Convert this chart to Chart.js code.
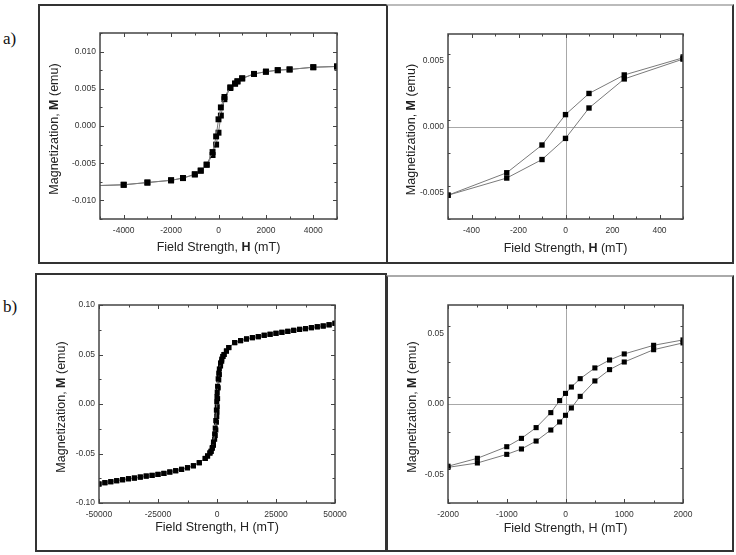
<!DOCTYPE html>
<html>
<head>
<meta charset="utf-8">
<script src="https://cdn.jsdelivr.net/npm/chart.js@4.4.0/dist/chart.umd.min.js"></script>
<style>
  html, body { margin: 0; padding: 0; background: #fff; }
  #page { position: relative; width: 736px; height: 555px; overflow: hidden; }
  canvas { position: absolute; }
  .box { position: absolute; box-sizing: border-box; border: 2px solid #333; pointer-events: none; }
  .tag { position: absolute; left: 3px; font-family: "Liberation Serif", "Times New Roman", serif; font-size: 17px; line-height: 17px; color: #111; }
</style>
</head>
<body>
<div id="page">
  <div class="tag" style="top:30px">a)</div>
  <div class="tag" style="top:298px">b)</div>

  <canvas id="cA1" width="348" height="259" style="left:38px;top:4px"></canvas>
  <canvas id="cA2" width="347" height="259" style="left:386px;top:4px"></canvas>
  <canvas id="cB1" width="351" height="278" style="left:35px;top:273px"></canvas>
  <canvas id="cB2" width="347" height="276" style="left:386px;top:275px"></canvas>

  <div class="box" style="left:38px;top:4px;width:350px;height:260px"></div>
  <div class="box" style="left:386px;top:4px;width:348px;height:260px;border-top-color:#bbb"></div>
  <div class="box" style="left:35px;top:273px;width:352px;height:279px"></div>
  <div class="box" style="left:386px;top:275px;width:348px;height:277px;border-top-color:#aaa"></div>
</div>

<script>
// ---- sample a) ----
// low field loop, field in mT, M in emu
const aLoopField = [-500, -250, -100, 0, 100, 250, 500];
const aLoopDown  = [-0.0052, -0.0035, -0.0014, 0.0009, 0.0025, 0.0039, 0.0052];
const aLoopUp    = [-0.0052, -0.0039, -0.0025, -0.0009, 0.0014, 0.0036, 0.0051];
// high field tails
const aNegField = [-5000, -4000, -3000, -2000, -1500, -1000, -750];
const aNegM     = [-0.0080, -0.0079, -0.0076, -0.0073, -0.0070, -0.0065, -0.0060];
const aPosField = [700, 800, 1000, 1500, 2000, 2500, 3000, 4000, 5000];
const aPosM     = [0.0057, 0.0060, 0.0064, 0.0070, 0.0073, 0.0075, 0.0076, 0.0079, 0.0080];

// ---- sample b) ----
const bLoopField = [-2000, -1500, -1000, -750, -500, -250, -100, 0, 100, 250, 500, 750, 1000, 1500, 2000];
const bLoopDown  = [-0.0440, -0.0384, -0.0302, -0.0243, -0.0167, -0.0061, 0.0024, 0.0075, 0.0120, 0.0179, 0.0255, 0.0311, 0.0354, 0.0415, 0.0453];
const bLoopUp    = [-0.0448, -0.0417, -0.0356, -0.0318, -0.0262, -0.0184, -0.0127, -0.0080, -0.0028, 0.0054, 0.0163, 0.0243, 0.0297, 0.0384, 0.0432];
const bNegField = [-50000, -47500, -45000, -42500, -40000, -37500, -35000, -32500, -30000, -27500,
                   -25000, -22500, -20000, -17500, -15000, -12500, -10000, -7500, -5000, -4000, -3000, -2500];
const bNegM     = [-0.0808, -0.0795, -0.0785, -0.0775, -0.0765, -0.0755, -0.0748, -0.0738, -0.0728, -0.0721,
                   -0.0711, -0.0701, -0.0687, -0.0674, -0.0660, -0.0644, -0.0624, -0.0593, -0.0550, -0.0525, -0.0495, -0.0478];
const bPosField = [2500, 3000, 4000, 5000, 7500, 10000, 12500, 15000, 17500, 20000, 22500, 25000,
                   27500, 30000, 32500, 35000, 37500, 40000, 42500, 45000, 47500, 50000];
const bPosM     = [0.0480, 0.0500, 0.0535, 0.0570, 0.0620, 0.0640, 0.0657, 0.0670, 0.0680, 0.0694, 0.0704, 0.0714,
                   0.0724, 0.0734, 0.0744, 0.0754, 0.0761, 0.0771, 0.0780, 0.0788, 0.0800, 0.0815];

// tick labels
const a1XTicks = [-4000, -2000, 0, 2000, 4000];
const a1YTicks = [-0.010, -0.005, 0, 0.005, 0.010];
const a2XTicks = [-400, -200, 0, 200, 400];
const a2YTicks = [-0.005, 0, 0.005];
const b1XTicks = [-50000, -25000, 0, 25000, 50000];
const b1YTicks = [-0.10, -0.05, 0, 0.05, 0.10];
const b2XTicks = [-2000, -1000, 0, 1000, 2000];
const b2YTicks = [-0.05, 0, 0.05];

function pts(xs, ys) {
  return xs.map((x, i) => ({ x: x, y: ys[i] }));
}

const aDown = pts(aNegField.concat(aLoopField, aPosField), aNegM.concat(aLoopDown, aPosM));
const aUp   = pts(aNegField.concat(aLoopField, aPosField), aNegM.concat(aLoopUp, aPosM));
const bDown = pts(bNegField.concat(bLoopField, bPosField), bNegM.concat(bLoopDown, bPosM));
const bUp   = pts(bNegField.concat(bLoopField, bPosField), bNegM.concat(bLoopUp, bPosM));

const FONT = '"Liberation Sans", Arial, sans-serif';

const framePlugin = {
  id: 'frame',
  beforeDatasetsDraw(chart, args, o) {
    if (!o.zero) return;
    const { ctx, chartArea: a, scales } = chart;
    const px = Math.round(scales.x.getPixelForValue(0)) + 0.5;
    const py = Math.round(scales.y.getPixelForValue(0)) + 0.5;
    ctx.save();
    ctx.strokeStyle = '#a8a8a8';
    ctx.lineWidth = 1;
    ctx.beginPath();
    ctx.moveTo(px, a.top); ctx.lineTo(px, a.bottom);
    ctx.moveTo(a.left, py); ctx.lineTo(a.right, py);
    ctx.stroke();
    ctx.restore();
  },
  afterDatasetsDraw(chart, args, o) {
    const { ctx, chartArea: a, scales } = chart;
    const sx = scales.x, sy = scales.y;
    ctx.save();
    ctx.strokeStyle = '#444';
    ctx.lineWidth = 1.5;
    ctx.strokeRect(a.left, a.top, a.right - a.left, a.bottom - a.top);
    ctx.lineWidth = 1;
    ctx.beginPath();
    const near = (v, s) => Math.abs(v / s - Math.round(v / s)) < 1e-6;
    for (let v = sx.min; v <= sx.max + 1e-9; v += o.xMinor) {
      const p = Math.round(sx.getPixelForValue(v)) + 0.5;
      const len = near(v, o.xMinor * 2) ? 4 : 2.5;
      ctx.moveTo(p, a.bottom); ctx.lineTo(p, a.bottom - len);
      ctx.moveTo(p, a.top); ctx.lineTo(p, a.top + len);
    }
    for (let v = sy.min; v <= sy.max + 1e-12; v += o.yMinor) {
      const p = Math.round(sy.getPixelForValue(v)) + 0.5;
      const len = near(v, o.yMinor * 2) ? 4 : 2.5;
      ctx.moveTo(a.left, p); ctx.lineTo(a.left + len, p);
      ctx.moveTo(a.right, p); ctx.lineTo(a.right - len, p);
    }
    ctx.stroke();
    ctx.restore();
  },
  afterDraw(chart, args, o) {
    const { ctx, chartArea: a } = chart;
    ctx.save();
    ctx.fillStyle = '#222';
    ctx.textBaseline = 'middle';
    richText(ctx, o.xTitle, (a.left + a.right) / 2, a.bottom + o.xTitleGap, o.titleSize);
    ctx.translate(o.yTitleX, (a.top + a.bottom) / 2 + 3);
    ctx.rotate(-Math.PI / 2);
    richText(ctx, o.yTitle, 0, 0, o.titleSize);
    ctx.restore();
  }
};

function richText(ctx, parts, cx, cy, size) {
  const fontOf = b => (b ? 'bold ' : '') + size + 'px ' + FONT;
  let total = 0;
  parts.forEach(p => { ctx.font = fontOf(p[1]); total += ctx.measureText(p[0]).width; });
  let x = cx - total / 2;
  ctx.textAlign = 'left';
  parts.forEach(p => {
    ctx.font = fontOf(p[1]);
    ctx.fillText(p[0], x, cy);
    x += ctx.measureText(p[0]).width;
  });
}

function fmt(dec) {
  return v => {
    if (Math.abs(v) < 1e-12) v = 0;
    return dec ? v.toFixed(dec) : String(Math.round(v));
  };
}

function makeChart(id, cfg) {
  const series = (data, r) => ({
    data: data,
    showLine: true,
    borderColor: '#7a7a7a',
    borderWidth: 1,
    pointStyle: 'rect',
    pointRadius: ctx => (cfg.hideFirst && ctx.dataIndex === 0 ? 0 : r),
    pointBackgroundColor: '#000',
    pointBorderWidth: 0,
    pointHoverRadius: r
  });
  return new Chart(document.getElementById(id), {
    type: 'scatter',
    data: { datasets: [series(cfg.down, cfg.r), series(cfg.up, cfg.r)] },
    options: {
      responsive: false,
      devicePixelRatio: 1,
      animation: false,
      events: [],
      layout: { padding: { left: 0, top: cfg.top, right: cfg.right, bottom: 0 } },
      plugins: {
        legend: { display: false },
        tooltip: { enabled: false },
        frame: {
          zero: cfg.zero,
          xMinor: cfg.xMinor, yMinor: cfg.yMinor,
          xTitle: cfg.xTitle, yTitle: cfg.yTitle,
          xTitleGap: cfg.xTitleGap, yTitleX: cfg.yTitleX,
          titleSize: 12.5
        }
      },
      scales: {
        x: {
          type: 'linear', min: cfg.xMin, max: cfg.xMax,
          afterBuildTicks: s => { s.ticks = cfg.xTicks.map(v => ({ value: v })); },
          afterFit: s => { s.height = cfg.bottom; },
          grid: { display: false, drawTicks: false },
          border: { display: false },
          ticks: { font: { family: FONT, size: 8.5 }, color: '#333', padding: 7, maxRotation: 0, autoSkip: false, callback: fmt(0) }
        },
        y: {
          type: 'linear', min: cfg.yMin, max: cfg.yMax,
          afterBuildTicks: s => { s.ticks = cfg.yTicks.map(v => ({ value: v })); },
          afterFit: s => { s.width = cfg.left; },
          grid: { display: false, drawTicks: false },
          border: { display: false },
          ticks: { font: { family: FONT, size: 8.5 }, color: '#333', padding: 4, autoSkip: false, callback: fmt(cfg.yDec) }
        }
      }
    },
    plugins: [framePlugin]
  });
}

const titleX  = [['Field Strength, ', false], ['H', true], [' (mT)', false]];
const titleXp = [['Field Strength, H (mT)', false]];
const titleY  = [['Magnetization, ', false], ['M', true], [' (emu)', false]];

makeChart('cA1', {
  down: aDown, up: aUp, r: 4.2, hideFirst: true,
  xMin: -5000, xMax: 5000, yMin: -0.0125, yMax: 0.0125,
  xTicks: a1XTicks, yTicks: a1YTicks, xMinor: 1000, yMinor: 0.0025, yDec: 3,
  left: 62, top: 29, right: 49, bottom: 44,
  xTitle: titleX, yTitle: titleY, xTitleGap: 29, yTitleX: 17, zero: false
});
makeChart('cA2', {
  down: aDown, up: aUp, r: 3.8,
  xMin: -500, xMax: 500, yMin: -0.007, yMax: 0.007,
  xTicks: a2XTicks, yTicks: a2YTicks, xMinor: 100, yMinor: 0.0025, yDec: 3,
  left: 62, top: 30, right: 50, bottom: 44,
  xTitle: titleX, yTitle: titleY, xTitleGap: 30, yTitleX: 26, zero: true
});
makeChart('cB1', {
  down: bDown, up: bUp, r: 3.6,
  xMin: -50000, xMax: 50000, yMin: -0.10, yMax: 0.10,
  xTicks: b1XTicks, yTicks: b1YTicks, xMinor: 12500, yMinor: 0.025, yDec: 2,
  left: 64, top: 32, right: 51, bottom: 48,
  xTitle: titleXp, yTitle: titleY, xTitleGap: 25, yTitleX: 27, zero: false
});
makeChart('cB2', {
  down: bDown, up: bUp, r: 3.6,
  xMin: -2000, xMax: 2000, yMin: -0.07, yMax: 0.07,
  xTicks: b2XTicks, yTicks: b2YTicks, xMinor: 500, yMinor: 0.025, yDec: 2,
  left: 62, top: 30, right: 50, bottom: 48,
  xTitle: titleXp, yTitle: titleY, xTitleGap: 26, yTitleX: 27, zero: true
});
</script>
</body>
</html>
